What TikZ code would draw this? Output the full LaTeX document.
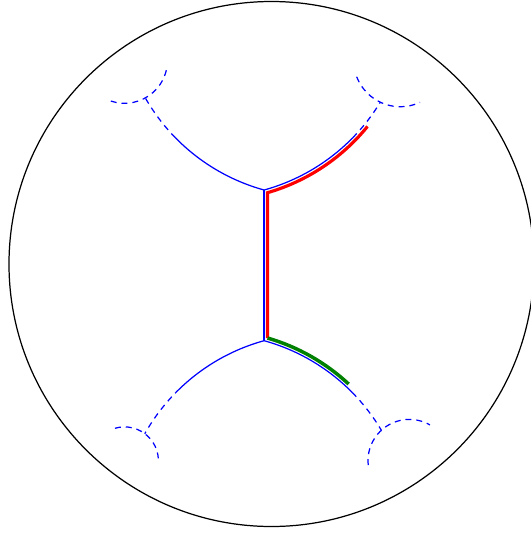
\documentclass[tikz,border=0pt]{standalone}
\usepackage{tikz}
\usetikzlibrary{calc}
\usepackage{xcolor}
\definecolor{treeblue}{HTML}{0000FF}
\definecolor{pathred}{HTML}{FF0000}
\definecolor{pathgreen}{HTML}{008000}

\begin{document}
\begin{tikzpicture}[branch/.style={treeblue,line width=0.35pt},
  branchdash/.style={branch,dash pattern=on 1.7pt off 1.4pt}]
  \useasboundingbox (-2.715,-2.69) rectangle (2.585,2.64);
  \draw[line width=0.35pt] (0,0) circle (2.625);
  \coordinate (cTL) at (0.448,2.642);
  \coordinate (cTR) at (-0.598,2.642);
  \coordinate (cBL) at (0.448,-2.669);
  \coordinate (cBR) at (-0.598,-2.669);
  \coordinate (V1) at ($(cTR)+(-74.6:1.973)$);
  \coordinate (V2) at ($(cBR)+(74.6:1.973)$);
  \draw[branch] (V1) -- (V2);
  \draw[branch] (V1) arc[start angle=254.6,end angle=224.4,radius=1.973] coordinate (sTL);
  \draw[branchdash] (sTL) arc[start angle=224.4,end angle=209.7,radius=1.973];
  \draw[branch] (V1) arc[start angle=-74.6,end angle=-44.4,radius=1.973] coordinate (sTR);
  \draw[branchdash] (sTR) arc[start angle=-44.4,end angle=-31.3,radius=1.973];
  \draw[branch] (V2) arc[start angle=105.4,end angle=134,radius=1.973] coordinate (sBL);
  \draw[branchdash] (sBL) arc[start angle=134,end angle=150.5,radius=1.973];
  \draw[branch] (V2) arc[start angle=74.6,end angle=44.6,radius=1.973] coordinate (sBR);
  \draw[branchdash] (sBR) arc[start angle=44.6,end angle=30.7,radius=1.973];
  \draw[branchdash] (-1.47,2.037) ++(-108.5:0.43) arc[start angle=-108.5,end angle=-8.6,radius=0.43];
  \draw[branchdash] (1.288,2.04) ++(201:0.467) arc[start angle=201,end angle=295,radius=0.467];
  \draw[branchdash] (-1.47,-1.968) ++(106.3:0.339) arc[start angle=106.3,end angle=4.2,radius=0.339];
  \draw[branchdash] (1.378,-1.967) ++(186:0.413) arc[start angle=186,end angle=60,radius=0.413];
  \coordinate (W1) at ($(cBR)+(73.85:2.008)$);
  \coordinate (W2) at ($(cTR)+(-73.85:2.008)$);
  \draw[pathred,line width=0.9pt] (W1) -- (W2) arc[start angle=-73.85,end angle=-39.1,radius=2.008];
  \draw[pathgreen,line width=1pt] (W1) arc[start angle=73.85,end angle=47,radius=2.008];
\end{tikzpicture}
\end{document}
